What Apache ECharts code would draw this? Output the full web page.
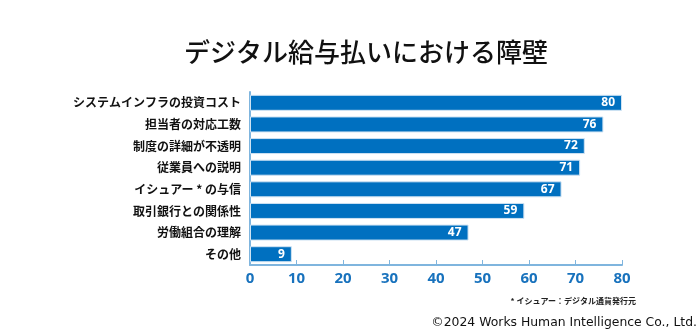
<!DOCTYPE html>
<html><head><meta charset="utf-8">
<script src="https://cdn.jsdelivr.net/npm/echarts@6/dist/echarts.min.js"></script>
<style>html,body{margin:0;padding:0;background:#fff}#c{width:700px;height:331px}</style>
</head><body><div id="c"></div>
<script>
const categories = ["システムインフラの投資コスト","担当者の対応工数","制度の詳細が不透明","従業員への説明","イシュアー * の与信","取引銀行との関係性","労働組合の理解","その他"];
const values = [80,76,72,71,67,59,47,9];
const xTicks = [0,10,20,30,40,50,60,70,80];
const titleText = "デジタル給与払いにおける障壁";
const noteText = "* イシュアー：デジタル通貨発行元";
const creditText = "©2024 Works Human Intelligence Co., Ltd.";
const FONT = "'Noto Sans CJK JP','Noto Sans',sans-serif";
const chart = echarts.init(document.getElementById('c'), null, {renderer:'canvas'});
chart.setOption({
  animation:false,
  textStyle:{fontFamily:FONT},
  graphic:[
    {type:'text',x:366,y:52,style:{text:titleText,fontFamily:FONT,fontSize:26,fontWeight:500,fill:'#111',textAlign:'center',textVerticalAlign:'middle'}},
    {type:'text',x:636,y:301,style:{text:noteText,fontFamily:FONT,fontSize:8,fontWeight:'bold',fill:'#222',textAlign:'right',textVerticalAlign:'middle'}},
    {type:'text',x:697,y:323,style:{text:creditText,fontFamily:"'DejaVu Sans',sans-serif",fontSize:12.4,fill:'#111',textAlign:'right',textVerticalAlign:'middle'}}
  ],
  grid:{left:250,right:78,top:92,bottom:66,containLabel:false},
  xAxis:{type:'value',min:0,max:80,interval:10,
    axisLine:{show:true,lineStyle:{color:'#7fb5de',width:2}},
    axisTick:{show:true,inside:true,length:5,lineStyle:{color:'#7fb5de',width:1}},
    splitLine:{show:false},
    axisLabel:{color:'#1872bd',fontSize:15,fontWeight:'bold',margin:6,fontFamily:"'Noto Sans',sans-serif",
      formatter:v=>xTicks.includes(v)?String(v):''}
  },
  yAxis:{type:'category',data:categories,inverse:true,
    axisLine:{show:true,lineStyle:{color:'#7fb5de',width:2}},
    axisTick:{show:false},
    axisLabel:{color:'#111',fontSize:12,fontWeight:'bold',margin:9}
  },
  series:[{type:'bar',data:values,barWidth:16,
    itemStyle:{color:'#0070c0',borderColor:'#cfe3f3',borderWidth:1},
    label:{show:true,position:'insideRight',color:'#fff',fontWeight:'bold',fontSize:12,offset:[-2,0],fontFamily:"'Noto Sans',sans-serif"}
  }]
});
</script></body></html>
